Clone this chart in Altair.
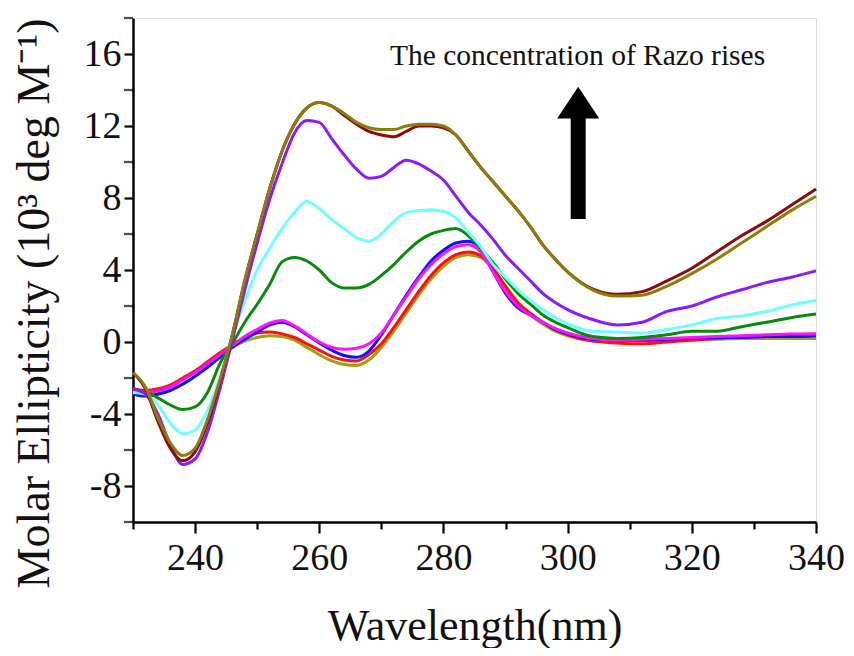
import altair as alt
import pandas as pd

wavelength = [230, 232, 234, 236, 238, 240, 242, 244, 246, 248, 250, 252, 254, 256, 258,
              260, 262, 264, 266, 268, 270, 272, 274, 276, 278, 280, 282, 284, 286, 288,
              290, 292, 294, 296, 298, 300, 304, 308, 312, 316, 320, 324, 328, 332, 336, 340]

olive_low = [-2.8, -2.9, -2.8, -2.6, -2.3, -1.9, -1.4, -0.8, -0.3, 0.05, 0.25, 0.35, 0.3, 0.1, -0.3,
             -0.7, -1.05, -1.25, -1.3, -1.0, -0.3, 0.6, 1.6, 2.6, 3.5, 4.2, 4.7, 4.85, 4.7, 4.0,
             3.0, 2.1, 1.5, 1.0, 0.6, 0.35, 0.1, 0.1, 0.1, 0.1, 0.15, 0.15, 0.2, 0.2, 0.2, 0.2]
red = [-2.6, -2.7, -2.6, -2.4, -2.0, -1.6, -1.1, -0.6, -0.15, 0.25, 0.5, 0.55, 0.45, 0.25, -0.1,
       -0.45, -0.8, -1.0, -1.05, -0.7, -0.1, 0.8, 1.8, 2.8, 3.7, 4.4, 4.85, 5.0, 4.8, 4.1,
       3.1, 2.2, 1.6, 1.1, 0.7, 0.4, 0.05, -0.05, -0.1, 0.0, 0.1, 0.2, 0.3, 0.35, 0.4, 0.45]
blue = [-2.9, -3.0, -2.9, -2.7, -2.35, -1.9, -1.4, -0.85, -0.3, 0.15, 0.55, 0.95, 1.1, 0.85, 0.4,
        -0.05, -0.45, -0.75, -0.85, -0.5, 0.4, 1.5, 2.6, 3.6, 4.5, 5.1, 5.5, 5.6, 5.2, 3.9,
        2.7, 1.9, 1.5, 1.1, 0.7, 0.45, 0.15, 0.1, 0.1, 0.15, 0.2, 0.25, 0.25, 0.3, 0.3, 0.35]
magenta = [-2.7, -2.8, -2.7, -2.5, -2.1, -1.7, -1.2, -0.7, -0.2, 0.3, 0.7, 1.05, 1.2, 0.9, 0.45,
           0.0, -0.3, -0.4, -0.35, -0.1, 0.5, 1.5, 2.5, 3.5, 4.3, 4.9, 5.3, 5.4, 5.0, 3.9,
           2.8, 2.0, 1.5, 1.1, 0.75, 0.5, 0.2, 0.1, 0.15, 0.2, 0.25, 0.3, 0.35, 0.4, 0.45, 0.45]
green = [-2.8, -2.8, -3.1, -3.5, -3.75, -3.6, -2.8, -1.2, -0.1, 1.1, 2.1, 3.2, 4.45, 4.7, 4.5,
         4.0, 3.3, 3.0, 3.0, 3.2, 3.7, 4.3, 5.0, 5.6, 6.0, 6.2, 6.3, 5.9, 5.2, 4.4,
         3.5, 2.7, 2.1, 1.5, 1.1, 0.8, 0.3, 0.2, 0.25, 0.4, 0.6, 0.6, 0.85, 1.1, 1.35, 1.55]
cyan = [-2.8, -2.9, -3.5, -4.5, -5.1, -4.9, -3.8, -2.0, 0.3, 2.3, 4.0, 5.2, 6.3, 7.2, 7.8,
        7.4, 6.8, 6.3, 5.8, 5.6, 6.0, 6.7, 7.2, 7.3, 7.35, 7.25, 6.9, 6.1, 5.3, 4.3,
        3.6, 2.9, 2.3, 1.8, 1.35, 1.0, 0.6, 0.55, 0.5, 0.7, 0.95, 1.3, 1.45, 1.7, 2.05, 2.3]
purple = [-2.6, -2.9, -4.0, -5.7, -6.8, -6.5, -5.0, -2.6, 0.1, 2.9, 5.5, 7.9, 9.9, 11.6, 12.3,
          12.2, 11.3, 10.4, 9.6, 9.1, 9.2, 9.7, 10.1, 9.9, 9.5, 9.0, 8.1, 7.2, 6.5, 5.7,
          4.8, 4.1, 3.4, 2.7, 2.2, 1.8, 1.25, 0.95, 1.1, 1.7, 2.0, 2.5, 2.9, 3.3, 3.6, 3.95]
maroon = [-1.7, -2.6, -4.4, -5.9, -6.6, -6.1, -4.5, -2.2, 0.4, 3.4, 6.0, 8.5, 10.6, 12.1, 13.0,
          13.3, 13.1, 12.6, 12.1, 11.7, 11.5, 11.4, 11.7, 12.0, 12.0, 11.9, 11.5, 10.6, 9.7, 8.9,
          8.1, 7.3, 6.4, 5.4, 4.6, 3.9, 2.95, 2.65, 2.8, 3.4, 4.1, 5.0, 5.9, 6.7, 7.6, 8.5]
olive = [-1.7, -2.5, -4.2, -5.6, -6.3, -5.9, -4.3, -2.1, 0.4, 3.4, 6.0, 8.5, 10.6, 12.1, 13.0,
         13.3, 13.1, 12.7, 12.2, 11.9, 11.8, 11.8, 12.0, 12.1, 12.1, 12.0, 11.5, 10.6, 9.7, 8.9,
         8.1, 7.3, 6.4, 5.4, 4.6, 3.9, 2.9, 2.55, 2.6, 3.1, 3.8, 4.6, 5.5, 6.4, 7.3, 8.1]

series_names = ["olive_low", "red", "blue", "magenta", "green", "cyan", "purple", "maroon", "olive"]
series_values = [olive_low, red, blue, magenta, green, cyan, purple, maroon, olive]
series_colors = ["#a59d10", "#ff1010", "#1010ff", "#ff10ff", "#0a8a0a", "#70ffff",
                 "#8a1aff", "#8b0a0a", "#8a7d08"]

rows = []
for k, (name, vals) in enumerate(zip(series_names, series_values)):
    for w, v in zip(wavelength, vals):
        rows.append({"series": name, "order": k, "wl": w, "val": v})
df = pd.DataFrame(rows)

y_tick_values = [-10, -8, -6, -4, -2, 0, 2, 4, 6, 8, 10, 12, 14, 16, 18]
y_label_values = [-8, -4, 0, 4, 8, 12, 16]

note_text = ["The concentration of Razo rises"]
note_x = [301.6]
note_y = [15.4]
arrow_x = [301.7]
arrow_y0 = [6.83]
arrow_y1 = [12.5]
head_y = [13.3]

xscale = alt.Scale(domain=[230, 340], nice=False, zero=False)
yscale = alt.Scale(domain=[-10, 18], nice=False, zero=False)

font = "Liberation Serif"

xaxis = alt.Axis(
    values=list(range(230, 341, 10)),
    labelExpr="datum.value % 20 === 0 ? datum.label : ''",
    tickSize={"condition": {"test": "datum.value % 20 === 0", "value": 11}, "value": 7},
    labelPadding=6,
    labelFontSize=38, labelFont=font, labelColor="#111",
    title="Wavelength(nm)", titleFont=font, titleFontSize=44, titleFontWeight="normal",
    titleColor="#111", titleBaseline="alphabetic", titleY=117,
    domainColor="black", domainWidth=2.5, tickColor="black", tickWidth=2.2,
    grid=False, labelFlush=False, labelOverlap=False,
)
yaxis = alt.Axis(
    values=y_label_values,
    labelExpr="replace(datum.label, '\u2212', '-')",
    tickSize=9,
    labelPadding=3,
    labelFontSize=38, labelFont=font, labelColor="#111",
    title="Molar Ellipticity (10³ deg M⁻¹)", titleFont=font, titleFontSize=46,
    titleFontWeight="normal", titleColor="#111", titleAngle=270, titleAlign="center",
    titleBaseline="alphabetic", titleX=-85, titleY=285,
    domainColor="black", domainWidth=2.5, tickColor="black", tickWidth=2.2,
    grid=False, labelFlush=False, labelOverlap=False,
)

lines = alt.Chart(df).mark_line(interpolate="monotone", strokeWidth=3).encode(
    x=alt.X("wl:Q", scale=xscale, axis=xaxis),
    y=alt.Y("val:Q", scale=yscale, axis=yaxis),
    color=alt.Color("series:N", scale=alt.Scale(domain=series_names, range=series_colors), legend=None),
    order=alt.Order("order:Q"),
)

# minor ticks on the y axis (every 2 units, unlabeled)
minor_vals = [v for v in y_tick_values if v not in y_label_values]
minor_df = pd.DataFrame({"v": minor_vals, "x0": [230] * len(minor_vals)})
minor = alt.Chart(minor_df).mark_tick(orient="horizontal", color="black", thickness=2.2,
                                      size=9, xOffset=-4.5).encode(
    x=alt.X("x0:Q", scale=xscale), y=alt.Y("v:Q", scale=yscale))

ann_df = pd.DataFrame({"text": note_text, "x": note_x, "y": note_y})
note = alt.Chart(ann_df).mark_text(font=font, fontSize=29.5, baseline="alphabetic", align="center",
                                   color="#111").encode(
    x=alt.X("x:Q", scale=xscale), y=alt.Y("y:Q", scale=yscale), text="text:N")

arrow_df = pd.DataFrame({"x": arrow_x, "y0": arrow_y0, "y1": arrow_y1, "hy": head_y})
shaft = alt.Chart(arrow_df).mark_rule(color="black", strokeWidth=15).encode(
    x=alt.X("x:Q", scale=xscale), y=alt.Y("y0:Q", scale=yscale), y2="y1:Q")
head = alt.Chart(arrow_df).mark_point(
    shape="M-1,0.76L1,0.76L0,-0.76Z", size=1764, filled=True, color="black", opacity=1,
    strokeWidth=0).encode(x=alt.X("x:Q", scale=xscale), y=alt.Y("hy:Q", scale=yscale))

chart = alt.layer(lines, minor, note, shaft, head).properties(
    width=683, height=504,
    autosize=alt.AutoSizeParams(type="none"),
    padding={"left": 125, "top": 10, "right": 30, "bottom": 126},
).configure_view(stroke=None).configure(background="white")

chart.save("out.html", embed_options={"renderer": "svg", "actions": False})
